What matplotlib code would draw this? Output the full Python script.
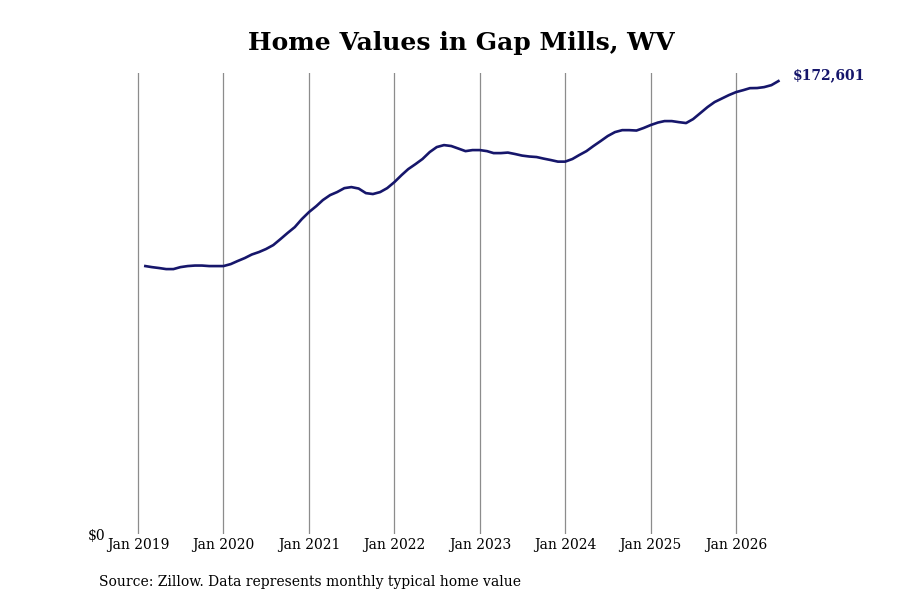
import matplotlib.pyplot as plt
import pandas as pd

dates = pd.date_range('2019-02-01', '2026-07-01', freq='MS')
values = [
    102100, 101700, 101350, 100950, 100950, 101700, 102100, 102300, 102300, 102100, 102100,
    102100, 102850, 104000, 105150, 106500, 107450, 108600, 110100, 112400, 114700, 116950, 120000,
    122700, 124950, 127250, 129150, 130300, 131800, 132200, 131650, 129900, 129550, 130300, 131800,
    134100, 136800, 139050, 140950, 142900, 145550, 147450, 148200, 147850, 146900, 145900, 146300,
    146300, 145900, 145150, 145150, 145350, 144800, 144200, 143850, 143650, 143050, 142500, 141900,
    141900, 142900, 144400, 145900, 147850, 149750, 151650, 153150, 153900, 153900, 153750, 154700,
    155850, 156800, 157350, 157350, 156950, 156600, 158100, 160400, 162700, 164600, 165950, 167250,
    168400, 169150, 169900, 169950, 170300, 171050, 172601,
]
year_ticks = pd.date_range('2019-01-01', '2026-01-01', freq='YS')
tick_labels = ['Jan %d' % d.year for d in year_ticks]

plt.rcParams['font.family'] = 'DejaVu Serif'
line_color = '#16166b'

fig = plt.figure(figsize=(9, 6), dpi=100)
ax = fig.add_axes([0.122, 0.11, 0.758, 0.768])
ax.plot(dates, values, color=line_color, lw=1.9)

ax.set_xlim(pd.Timestamp('2018-09-02'), pd.Timestamp('2026-08-28'))
ax.set_ylim(0, 175600)
ax.set_xticks(year_ticks)
ax.set_xticklabels(tick_labels, fontsize=10)
ax.set_yticks([0])
ax.set_yticklabels(['$0'], fontsize=10)
ax.tick_params(length=0, pad=3)
ax.grid(True, axis='x', color='#8c8c8c', lw=0.9)
for s in ax.spines.values():
    s.set_visible(False)

ax.annotate('$%s' % format(values[-1], ','), (dates[-1], values[-1]),
            xytext=(10, 4), textcoords='offset points',
            color=line_color, fontsize=10, fontweight='bold', va='center')

fig.text(0.513, 0.928, 'Home Values in Gap Mills, WV', ha='center', va='center',
         fontsize=18, fontweight='bold')
fig.text(0.11, 0.03, 'Source: Zillow. Data represents monthly typical home value',
         fontsize=10, va='center')

fig.savefig('out.png', dpi=100)
